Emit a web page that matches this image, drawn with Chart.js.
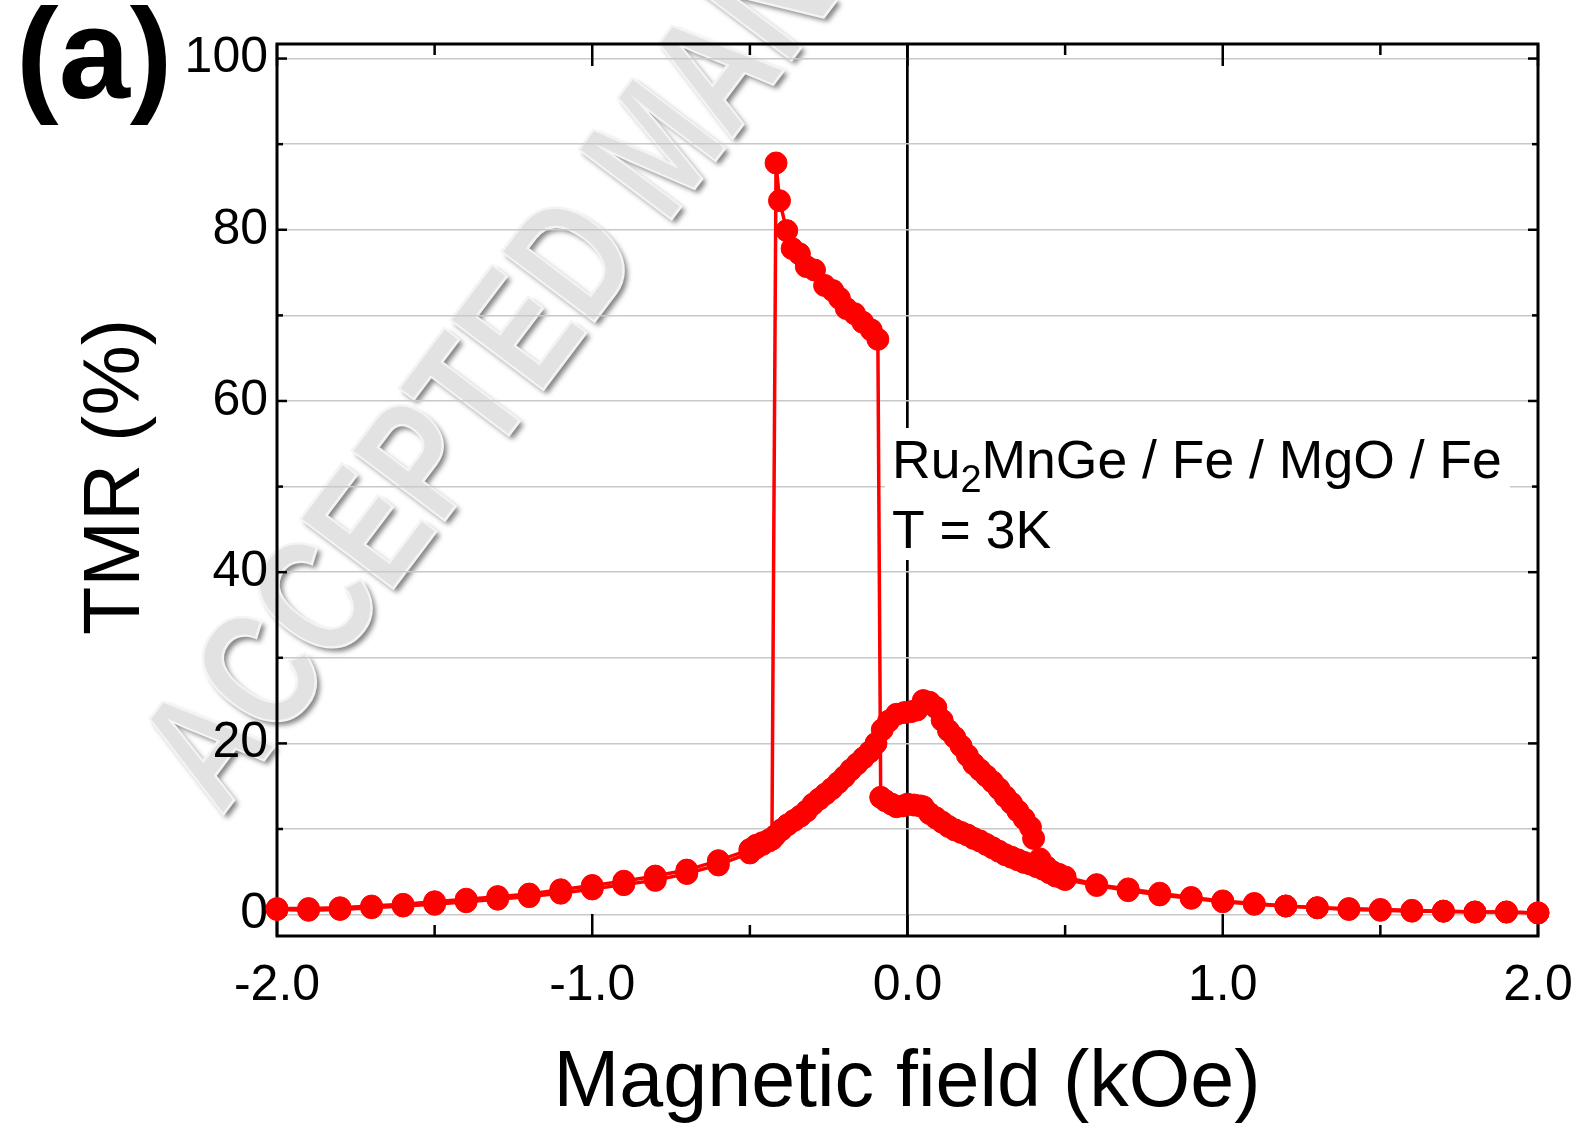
<!DOCTYPE html>
<html>
<head>
<meta charset="utf-8">
<title>TMR vs magnetic field</title>
<script src="https://cdn.jsdelivr.net/npm/chart.js@4.4.0/dist/chart.umd.min.js"></script>
<style>
  html, body { margin: 0; padding: 0; background: #fff; }
  #wrap { width: 1576px; height: 1128px; }
</style>
</head>
<body>
<div id="wrap"><canvas id="tmrChart" width="1576" height="1128"></canvas></div>
<script>
// sweep from -2 kOe upwards (jumps into the high state near -0.42 kOe, drops back near -0.09 kOe)
const fieldUp = [-2.0, -1.9, -1.8, -1.7, -1.6, -1.5, -1.4, -1.3, -1.2, -1.1, -1.0, -0.9, -0.8, -0.7, -0.6, -0.5,
  -0.48, -0.46, -0.44, -0.43,
  -0.417, -0.406, -0.383, -0.366, -0.343, -0.321, -0.295, -0.263, -0.237, -0.216, -0.194, -0.168, -0.142, -0.115, -0.094,
  -0.085, -0.07, -0.05, -0.035, -0.015, 0.0, 0.02, 0.04, 0.05, 0.07, 0.09, 0.11, 0.13, 0.15, 0.17, 0.19, 0.21, 0.23,
  0.25, 0.27, 0.29, 0.31, 0.33, 0.35, 0.37, 0.39, 0.41, 0.43, 0.45, 0.47, 0.49, 0.50,
  0.6, 0.7, 0.8, 0.9, 1.0, 1.1, 1.2, 1.3, 1.4, 1.5, 1.6, 1.7, 1.8, 1.9, 2.0];
const tmrUp = [0.6, 0.5, 0.6, 0.8, 1.0, 1.2, 1.5, 1.8, 2.1, 2.5, 3.0, 3.5, 4.0, 4.8, 5.8, 7.2,
  7.8, 8.2, 8.6, 8.8,
  87.8, 83.4, 79.9, 77.8, 77.2, 75.7, 75.3, 73.5, 72.9, 72.0, 70.8, 70.2, 69.2, 68.3, 67.2,
  13.7, 13.3, 12.9, 12.6, 12.7, 12.9, 12.8, 12.7, 12.6, 11.8, 11.3, 10.8, 10.3, 9.9, 9.6, 9.3, 8.9, 8.6,
  8.2, 7.8, 7.4, 7.0, 6.7, 6.4, 6.1, 5.9, 5.6, 5.3, 4.9, 4.5, 4.3, 4.1,
  3.4, 2.8, 2.3, 1.9, 1.5, 1.2, 1.0, 0.8, 0.6, 0.5, 0.4, 0.4, 0.3, 0.3, 0.2];

// sweep from +2 kOe downwards
const fieldDown = [2.0, 1.9, 1.8, 1.7, 1.6, 1.5, 1.4, 1.3, 1.2, 1.1, 1.0, 0.9, 0.8, 0.7, 0.6,
  0.50, 0.48, 0.46, 0.44, 0.42, 0.40, 0.39, 0.37, 0.35, 0.33, 0.31, 0.29, 0.27, 0.25, 0.23, 0.21, 0.19, 0.17,
  0.15, 0.13, 0.11, 0.09, 0.07, 0.05, 0.03, 0.01, -0.01, -0.035, -0.06, -0.08, -0.10, -0.12, -0.14, -0.16,
  -0.18, -0.20, -0.22, -0.24, -0.26, -0.28, -0.30, -0.32, -0.34, -0.36, -0.38, -0.40, -0.42, -0.44, -0.46,
  -0.48, -0.50, -0.6, -0.7, -0.8, -0.9, -1.0, -1.1, -1.2, -1.3, -1.4, -1.5, -1.6, -1.7, -1.8, -1.9, -2.0];
const tmrDown = [0.2, 0.3, 0.3, 0.4, 0.5, 0.6, 0.7, 0.8, 1.0, 1.3, 1.6, 2.0, 2.5, 3.0, 3.5,
  4.4, 4.7, 5.0, 5.6, 6.5, 8.9, 10.2, 11.2, 12.1, 13.0, 13.8, 14.7, 15.5, 16.2, 16.9, 17.6, 18.6, 19.7,
  20.7, 21.5, 22.7, 24.2, 24.8, 25.0, 23.9, 23.7, 23.6, 23.4, 22.6, 21.6, 20.0, 19.0, 18.3, 17.6,
  16.9, 16.1, 15.4, 14.7, 14.1, 13.5, 12.9, 12.1, 11.5, 11.0, 10.5, 9.9, 9.2, 8.7, 8.4,
  8.1, 7.6, 6.3, 5.2, 4.5, 3.9, 3.4, 2.9, 2.4, 2.1, 1.8, 1.5, 1.2, 1.0, 0.8, 0.7, 0.7];

// labelled (major) ticks, the others are minor
const xMajorTicks = [-2, -1, 0, 1, 2];
const yMajorTicks = [0, 20, 40, 60, 80, 100];

const RED = '#ff0000';
const FONT = "'Liberation Sans', Arial, Helvetica, sans-serif";

function line(ctx, x1, y1, x2, y2) {
  ctx.beginPath();
  ctx.moveTo(x1, y1);
  ctx.lineTo(x2, y2);
  ctx.stroke();
}

const framePlugin = {
  id: 'frame',
  beforeDraw(chart) {
    // journal watermark (tall, embossed letters), under the axis labels
    const { ctx } = chart;
    ctx.save();
    ctx.translate(184, 789);
    ctx.rotate(-53 * Math.PI / 180);
    ctx.scale(1, 1.32);
    ctx.font = `bold 128px ${FONT}`;
    ctx.textBaseline = 'middle';
    ctx.shadowColor = 'rgba(110,110,110,0.85)';
    ctx.shadowBlur = 5;
    ctx.shadowOffsetX = 4;
    ctx.shadowOffsetY = 4;
    ctx.fillStyle = '#e2e2e2';
    ctx.fillText('ACCEPTED MANUSCRIPT', 0, 0);
    ctx.shadowColor = 'transparent';
    ctx.strokeStyle = '#f4f4f4';
    ctx.lineWidth = 2;
    ctx.strokeText('ACCEPTED MANUSCRIPT', 0, 0);
    ctx.restore();
  },
  beforeDatasetsDraw(chart) {
    const { ctx, chartArea: a, scales: { x, y } } = chart;
    ctx.save();

    // white box behind the sample label
    ctx.fillStyle = '#fff';
    ctx.fillRect(885, 428, 625, 132);

    // inward ticks on all four sides
    ctx.strokeStyle = '#000';
    ctx.lineWidth = 2.5;
    x.ticks.forEach(t => {
      const px = x.getPixelForValue(t.value);
      const len = xMajorTicks.includes(t.value) ? 22 : 11;
      line(ctx, px, a.bottom, px, a.bottom - len);
      line(ctx, px, a.top, px, a.top + len);
    });
    y.ticks.forEach(t => {
      const py = y.getPixelForValue(t.value);
      const len = yMajorTicks.includes(t.value) ? 10 : 6;
      line(ctx, a.left, py, a.left + len, py);
      line(ctx, a.right, py, a.right - len, py);
    });
    ctx.lineWidth = 3;
    ctx.strokeRect(a.left, a.top, a.right - a.left, a.bottom - a.top);
    ctx.restore();
  },
  afterDatasetsDraw(chart) {
    const { ctx } = chart;
    ctx.save();
    ctx.fillStyle = '#000';
    ctx.textBaseline = 'alphabetic';

    // sample label
    let tx = 892;
    ctx.font = `53.5px ${FONT}`;
    ctx.fillText('Ru', tx, 478);
    tx += ctx.measureText('Ru').width;
    ctx.font = `38px ${FONT}`;
    ctx.fillText('2', tx, 492);
    tx += ctx.measureText('2').width;
    ctx.font = `53.5px ${FONT}`;
    ctx.fillText('MnGe / Fe / MgO / Fe', tx, 478);
    ctx.fillText('T = 3K', 892, 548);

    // panel letter
    ctx.font = `bold 128px ${FONT}`;
    ctx.fillText('(a)', 16, 98);

    // axis titles
    ctx.font = `79px ${FONT}`;
    ctx.textAlign = 'center';
    ctx.fillText('Magnetic field (kOe)', 907, 1106);
    ctx.translate(139, 477);
    ctx.rotate(-Math.PI / 2);
    ctx.fillText('TMR (%)', 0, 0);
    ctx.restore();
  }
};

function branch(label, xs, ys) {
  return {
    label,
    data: xs.map((v, i) => ({ x: v, y: ys[i] })),
    showLine: true,
    borderColor: RED,
    backgroundColor: RED,
    borderWidth: 3.5,
    pointRadius: 11,
    pointHoverRadius: 11,
    pointBorderWidth: 1,
    pointBorderColor: RED,
    pointBackgroundColor: RED,
    tension: 0,
    clip: false
  };
}

new Chart(document.getElementById('tmrChart'), {
  type: 'scatter',
  data: {
    datasets: [
      branch('sweep down', fieldDown, tmrDown),
      branch('sweep up', fieldUp, tmrUp)
    ]
  },
  options: {
    responsive: false,
    animation: false,
    devicePixelRatio: 1,
    layout: { padding: { left: 0, right: 38, top: 44, bottom: 0 } },
    plugins: { legend: { display: false }, tooltip: { enabled: false } },
    scales: {
      x: {
        type: 'linear',
        min: -2,
        max: 2,
        afterFit: s => { s.height = 192; s.paddingLeft = 0; s.paddingRight = 0; },
        ticks: {
          stepSize: 0.5,
          autoSkip: false,
          maxRotation: 0,
          padding: 20,
          color: '#000',
          font: { family: FONT, size: 50 },
          callback: v => xMajorTicks.includes(v) ? v.toFixed(1) : ''
        },
        grid: {
          drawTicks: false,
          lineWidth: 2.7,
          color: c => (c.tick && c.tick.value === 0) ? '#000' : 'rgba(0,0,0,0)'
        },
        border: { display: false }
      },
      y: {
        type: 'linear',
        min: -2.5,
        max: 101.7,
        afterFit: s => { s.width = 277; s.paddingTop = 0; s.paddingBottom = 0; },
        ticks: {
          stepSize: 10,
          includeBounds: false,
          padding: 9,
          color: '#000',
          font: { family: FONT, size: 50 },
          callback: v => yMajorTicks.includes(v) ? String(v) : ''
        },
        grid: { drawTicks: false, lineWidth: 1.5, color: '#c8c8c8' },
        border: { display: false }
      }
    }
  },
  plugins: [framePlugin]
});
</script>
</body>
</html>
